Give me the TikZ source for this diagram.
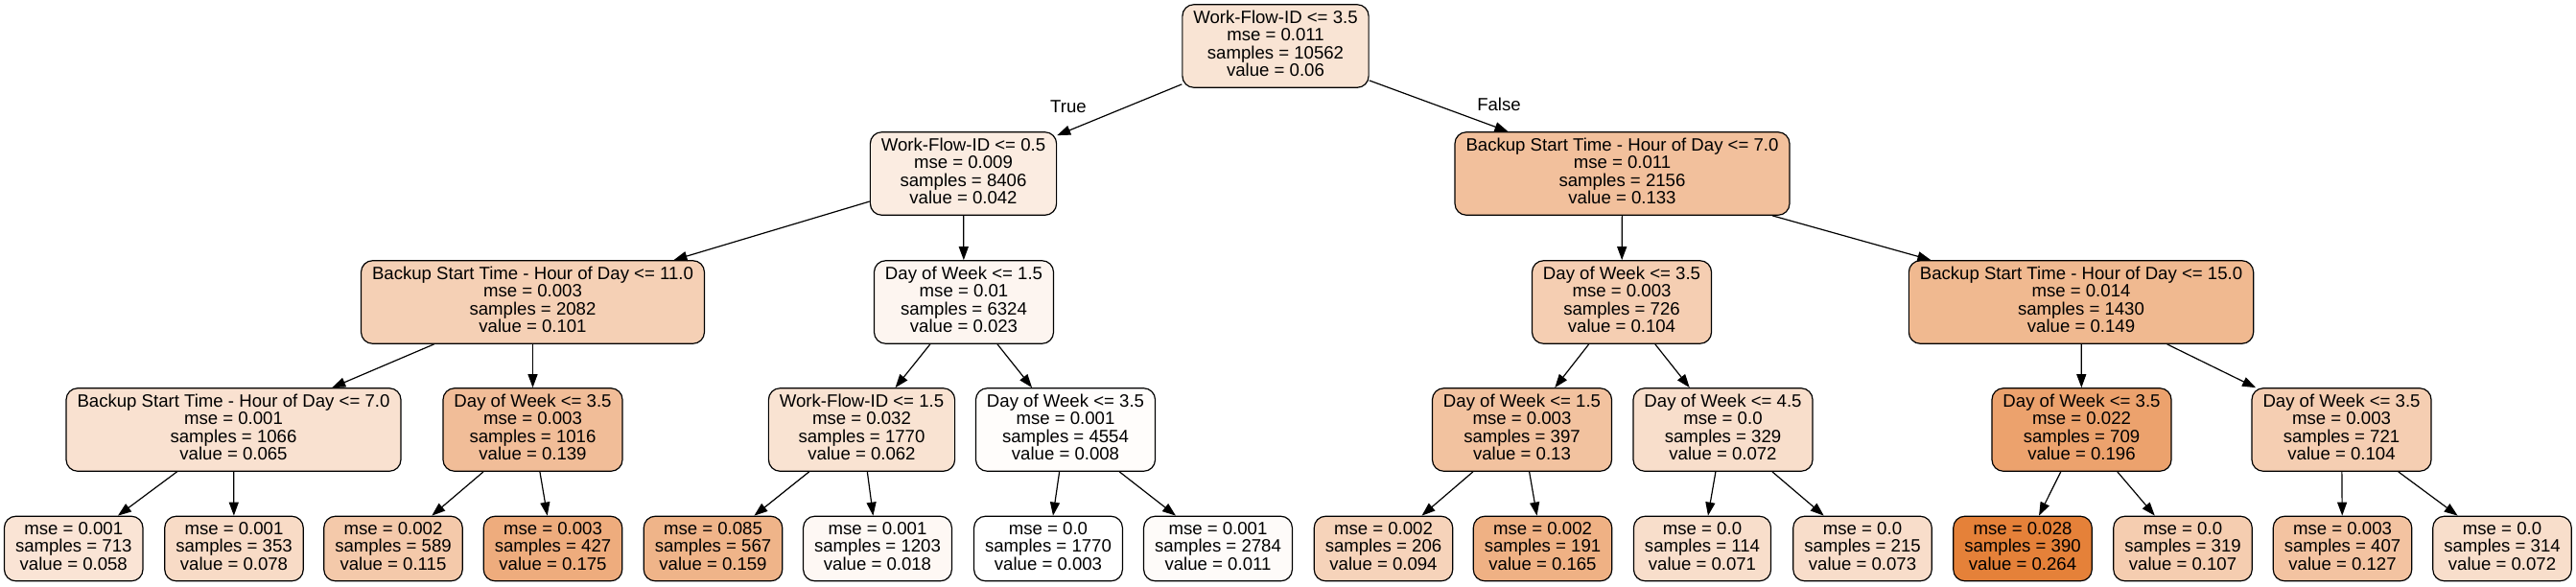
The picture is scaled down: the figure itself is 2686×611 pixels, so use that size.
\documentclass[tikz,border=0pt]{standalone}
\usepackage{fontspec}
\setmainfont{Liberation Sans}
\usetikzlibrary{arrows.meta}
\definecolor{dtorange}{RGB}{229,129,57}
\tikzset{
  tn/.style={draw=black, line width=1.2pt, rounded corners=12pt, align=center,
    inner xsep=11.5pt, inner ysep=6pt, font=\fontsize{18.6}{18.5}\selectfont,
    fill=dtorange!#1!white, execute at begin node=\strut, execute at end node=\strut},
  ed/.style={line width=1.2pt, -{Triangle[length=14pt,width=10pt]}},
  lbl/.style={font=\fontsize{18.6}{18.5}\selectfont, inner sep=0pt}
}
\begin{document}
\begin{tikzpicture}[x=1pt,y=-1pt]
\useasboundingbox (0,0) rectangle (2686,611);
% level 0
\node[tn=21.8] (n0) at (1330,48) {Work-Flow-ID <= 3.5\\mse = 0.011\\samples = 10562\\value = 0.06};
% level 1
\node[tn=14.9] (n1) at (1004.5,181) {Work-Flow-ID <= 0.5\\mse = 0.009\\samples = 8406\\value = 0.042};
\node[tn=49.8] (n2) at (1691.5,181) {Backup Start Time - Hour of Day <= 7.0\\mse = 0.011\\samples = 2156\\value = 0.133};
% level 2
\node[tn=37.6] (n3) at (555.5,315) {Backup Start Time - Hour of Day <= 11.0\\mse = 0.003\\samples = 2082\\value = 0.101};
\node[tn=7.7] (n4) at (1005,315) {Day of Week <= 1.5\\mse = 0.01\\samples = 6324\\value = 0.023};
\node[tn=38.7] (n5) at (1691,315) {Day of Week <= 3.5\\mse = 0.003\\samples = 726\\value = 0.104};
\node[tn=55.9] (n6) at (2170,315) {Backup Start Time - Hour of Day <= 15.0\\mse = 0.014\\samples = 1430\\value = 0.149};
% level 3
\node[tn=23.8] (n7) at (243.5,448) {Backup Start Time - Hour of Day <= 7.0\\mse = 0.001\\samples = 1066\\value = 0.065};
\node[tn=52.1] (n8) at (555.5,448) {Day of Week <= 3.5\\mse = 0.003\\samples = 1016\\value = 0.139};
\node[tn=22.6] (n9) at (898.5,448) {Work-Flow-ID <= 1.5\\mse = 0.032\\samples = 1770\\value = 0.062};
\node[tn=1.9] (n10) at (1111,448) {Day of Week <= 3.5\\mse = 0.001\\samples = 4554\\value = 0.008};
\node[tn=48.7] (n11) at (1587,448) {Day of Week <= 1.5\\mse = 0.003\\samples = 397\\value = 0.13};
\node[tn=26.4] (n12) at (1796.5,448) {Day of Week <= 4.5\\mse = 0.0\\samples = 329\\value = 0.072};
\node[tn=73.9] (n13) at (2170.5,448) {Day of Week <= 3.5\\mse = 0.022\\samples = 709\\value = 0.196};
\node[tn=38.7] (n14) at (2441.5,448) {Day of Week <= 3.5\\mse = 0.003\\samples = 721\\value = 0.104};
% leaves
\node[tn=21.1] (l1) at (76.75,572) {mse = 0.001\\samples = 713\\value = 0.058};
\node[tn=28.7] (l2) at (244,572) {mse = 0.001\\samples = 353\\value = 0.078};
\node[tn=42.9] (l3) at (410,572) {mse = 0.002\\samples = 589\\value = 0.115};
\node[tn=65.9] (l4) at (576.5,572) {mse = 0.003\\samples = 427\\value = 0.175};
\node[tn=59.8] (l5) at (743.5,572) {mse = 0.085\\samples = 567\\value = 0.159};
\node[tn=5.7] (l6) at (915,572) {mse = 0.001\\samples = 1203\\value = 0.018};
\node[tn=0] (l7) at (1093,572) {mse = 0.0\\samples = 1770\\value = 0.003};
\node[tn=3.1] (l8) at (1270,572) {mse = 0.001\\samples = 2784\\value = 0.011};
\node[tn=34.9] (l9) at (1442.5,572) {mse = 0.002\\samples = 206\\value = 0.094};
\node[tn=62.1] (l10) at (1608.5,572) {mse = 0.002\\samples = 191\\value = 0.165};
\node[tn=26.1] (l11) at (1775,572) {mse = 0.0\\samples = 114\\value = 0.071};
\node[tn=26.8] (l12) at (1942,572) {mse = 0.0\\samples = 215\\value = 0.073};
\node[tn=100] (l13) at (2109,572) {mse = 0.028\\samples = 390\\value = 0.264};
\node[tn=39.8] (l14) at (2276,572) {mse = 0.0\\samples = 319\\value = 0.107};
\node[tn=47.5] (l15) at (2442.5,572) {mse = 0.003\\samples = 407\\value = 0.127};
\node[tn=26.4] (l16) at (2609,572) {mse = 0.0\\samples = 314\\value = 0.072};
% edge labels
\node[lbl] (tl) at (1114,111) {True};
\node[lbl] (fl) at (1563,109) {False};
% edges
\draw[ed] (n0) -- (n1);
\draw[ed] (n0) -- (n2);
\draw[ed] (n1) -- (n3);
\draw[ed] (n1) -- (n4);
\draw[ed] (n2) -- (n5);
\draw[ed] (n2) -- (n6);
\draw[ed] (n3) -- (n7);
\draw[ed] (n3) -- (n8);
\draw[ed] (n4) -- (n9);
\draw[ed] (n4) -- (n10);
\draw[ed] (n5) -- (n11);
\draw[ed] (n5) -- (n12);
\draw[ed] (n6) -- (n13);
\draw[ed] (n6) -- (n14);
\draw[ed] (n7) -- (l1);
\draw[ed] (n7) -- (l2);
\draw[ed] (n8) -- (l3);
\draw[ed] (n8) -- (l4);
\draw[ed] (n9) -- (l5);
\draw[ed] (n9) -- (l6);
\draw[ed] (n10) -- (l7);
\draw[ed] (n10) -- (l8);
\draw[ed] (n11) -- (l9);
\draw[ed] (n11) -- (l10);
\draw[ed] (n12) -- (l11);
\draw[ed] (n12) -- (l12);
\draw[ed] (n13) -- (l13);
\draw[ed] (n13) -- (l14);
\draw[ed] (n14) -- (l15);
\draw[ed] (n14) -- (l16);
\end{tikzpicture}
\end{document}
